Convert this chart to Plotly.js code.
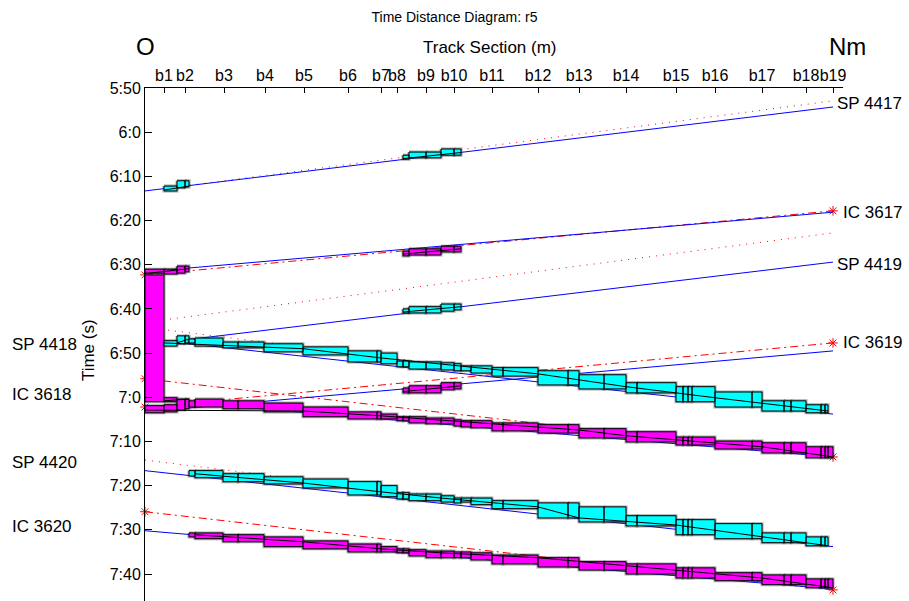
<!DOCTYPE html>
<html>
<head>
<meta charset="utf-8">
<script src="https://cdn.plot.ly/plotly-3.0.1.min.js"></script>
<style>html,body{margin:0;padding:0;background:#fff;}#chart{width:909px;height:601px;}</style>
</head>
<body>
<div id="chart"></div>
<script>
// ---- axis data ----
const signalNames = ['b1','b2','b3','b4','b5','b6','b7','b8','b9','b10','b11','b12','b13','b14','b15','b16','b17','b18','b19'];
const signalPos = [475,1000,1975,3000,3975,5075,5900,6300,7025,7725,8675,9825,10850,12025,13275,14250,15425,16525,17200];
const timeTicks = [350,360,370,380,390,400,410,420,430,440,450,460];
const timeLabels = ['5:50','6:0','6:10','6:20','6:30','6:40','6:50','7:0','7:10','7:20','7:30','7:40'];

// block section edges (m)
const blockEdges = [0,475,800,1000,1100,1250,1950,2325,2975,3950,5075,5800,5900,6300,6450,6600,7025,7400,7725,7900,8150,8675,8950,9825,10575,10850,11475,12025,12300,13275,13450,13575,13675,14250,15175,15425,15975,16150,16525,16900,17000,17075,17200];

// ---- blocking times (minutes of day) ----
const sp4417Seg = [1,2,3,14,15,16,17,18];
const sp4417Top = [372.2,371.0,371.0,365.2,364.5,364.5,363.8,363.8];
const sp4417Bot = [373.3,372.6,372.4,366.1,365.8,365.8,365.2,365.2];

const ic3617Seg = [0,1,2,3,14,15,16,17,18];
const ic3617Top = [391.0,391.0,390.3,390.3,386.9,386.4,386.4,385.8,385.8];
const ic3617Bot = [391.9,392.1,391.9,391.6,388.0,387.8,387.8,387.1,387.1];

const dwellSeg = [0];
const dwellTop = [392.3];
const dwellBot = [421.0];

const sp4419Seg = [2,3,14,15,16,17,18];
const sp4419Top = [406.1,406.1,400.0,399.5,399.5,398.9,398.9];
const sp4419Bot = [407.9,407.7,400.9,400.9,400.9,400.5,400.2];

const sp4418Seg = [1,4,5,6,7,8,9,10,11,12,13,14,15,16,17,18,19,20,21,22,23,24,25,26,27,28,29,30,31,32,33,34,35,36,37,38,39,40];
const sp4418Top = [407.2,406.8,406.6,407.5,407.5,407.9,408.6,409.5,409.5,410.0,411.8,411.8,412.0,412.0,412.2,412.4,412.9,412.9,413.3,413.3,414.0,414.0,414.9,414.9,416.7,416.7,417.6,417.6,417.6,417.6,418.8,418.8,420.8,420.8,420.8,421.7,421.7,421.7];
const sp4418Bot = [408.4,407.7,408.4,408.8,408.8,409.7,410.4,412.0,412.0,412.4,413.1,413.1,413.6,413.6,413.8,414.0,414.0,414.5,415.2,415.2,417.2,417.2,418.1,418.1,419.0,419.0,421.0,421.0,421.0,421.0,422.2,422.2,423.1,423.1,423.1,423.5,423.5,423.5];

const ic3619Seg = [1,14,15,16,17,18];
const ic3619Top = [420.1,417.9,417.4,417.4,416.7,416.7];
const ic3619Bot = [421.0,419.0,419.0,419.0,418.3,418.1];

const ic3618Seg = [0,1,2,3,4,5,6,7,8,9,10,11,12,13,14,15,16,17,18,19,20,21,22,23,24,25,26,27,28,29,30,31,32,33,34,35,36,37,38,39,40,41];
const ic3618Top = [421.9,421.7,420.4,420.4,420.8,420.4,420.8,420.8,421.3,422.2,423.3,423.3,423.8,424.4,424.4,424.4,424.7,424.7,425.1,425.3,425.3,425.8,425.8,426.2,426.2,427.1,427.1,427.8,427.8,429.0,429.0,429.0,429.0,429.9,429.9,430.3,430.3,430.3,431.2,431.2,431.2,431.2];
const ic3618Bot = [423.5,423.3,422.9,422.6,422.2,422.2,422.6,422.6,423.3,424.4,424.9,424.9,424.9,425.3,425.3,425.8,426.0,426.0,426.5,426.7,426.9,427.6,427.6,428.1,428.1,429.2,429.2,430.1,430.1,430.8,430.8,430.8,430.8,431.7,431.7,432.6,432.6,432.6,433.7,433.7,433.7,433.7];

const sp4420Seg = [4,5,6,7,8,9,10,11,12,13,14,15,16,17,18,19,20,21,22,23,24,25,26,27,28,29,30,31,32,33,34,35,36,37,38,39,40];
const sp4420Top = [436.6,436.6,437.3,437.3,438.0,438.5,439.1,439.1,440.0,441.6,441.6,441.9,441.9,442.3,442.8,442.8,442.8,443.4,443.4,443.9,443.9,444.8,444.8,446.8,446.8,447.7,447.7,447.7,447.7,448.6,448.6,450.7,450.7,450.7,451.6,451.6,451.6];
const sp4420Bot = [437.8,438.2,439.1,439.1,439.6,440.5,442.1,442.1,442.5,443.0,443.0,443.4,443.4,443.7,443.9,443.7,444.3,445.2,445.2,447.3,447.3,448.2,448.2,449.1,449.1,451.1,451.1,451.1,451.1,452.0,452.0,452.9,452.9,452.9,453.6,453.6,453.6];

const ic3620Seg = [4,5,6,7,8,9,10,11,12,13,14,15,16,17,18,19,20,21,22,23,24,25,26,27,28,29,30,31,32,33,34,35,36,37,38,39,40,41];
const ic3620Top = [450.7,450.7,451.1,451.1,451.6,452.5,453.2,453.2,453.8,454.3,454.3,454.5,454.8,454.8,455.0,455.0,455.2,455.7,455.7,456.3,456.3,457.2,457.2,457.7,457.7,458.6,458.6,458.6,458.6,459.7,459.7,460.2,460.2,460.2,461.1,461.1,461.1,461.1];
const ic3620Bot = [451.6,452.0,452.7,452.7,453.8,454.3,455.0,455.0,455.0,455.2,455.2,455.9,456.3,456.3,456.3,456.3,456.8,457.7,457.7,458.4,458.4,459.1,459.1,460.0,460.0,460.9,460.9,460.9,460.9,461.5,461.5,462.4,462.4,462.4,463.1,463.1,463.1,463.1];

// ---- train paths (actual: blue, planned: red) ----
const sp4417ActX = [0,17200], sp4417ActT = [373.3,354.3];
const sp4417PlanX = [1125,17200], sp4417PlanT = [372.0,352.9];
const ic3617ActX = [0,17200], ic3617ActT = [391.6,378.1];
const ic3617PlanX = [0,17200], ic3617PlanT = [392.3,377.8];
const sp4419ActX = [375,17200], sp4419ActT = [407.7,389.4];
const sp4419PlanX = [625,17200], sp4419PlanT = [402.3,382.8];
const sp4418ActX = [0,17200], sp4418ActT = [406.8,423.8];
const sp4418PlanX = [575,17200], sp4418PlanT = [404.8,423.5];
const ic3619ActX = [0,17200], ic3619ActT = [423.3,409.5];
const ic3619PlanX = [0,17200], ic3619PlanT = [422.2,407.7];
const ic3618ActX = [0,17200], ic3618ActT = [420.4,433.5];
const ic3618PlanX = [0,17200], ic3618PlanT = [415.8,433.5];
const sp4420ActX = [0,17200], sp4420ActT = [436.6,453.8];
const sp4420PlanX = [0,17200], sp4420PlanT = [434.2,453.4];
const ic3620ActX = [0,17200], ic3620ActT = [450.2,463.4];
const ic3620PlanX = [0,17200], ic3620PlanT = [445.9,463.6];

// ---- running paths inside blocks (black) ----
const sp4417RunX = [475,1100,null,6450,7900], sp4417RunT = [373.1,372.2,null,366.0,364.6];
const ic3617RunX = [0,1100,null,6450,7900], ic3617RunT = [392.0,390.9,null,387.6,386.4];
const sp4419RunX = [800,1100,null,6450,7900], sp4419RunT = [407.7,406.8,null,400.7,399.5];
const ic3619RunX = [475,1100,null,6450,7900], ic3619RunT = [420.8,420.4,null,418.7,417.4];
const sp4418RunX = [475,3950,5900,9825,12025,14250,17075], sp4418RunT = [407.7,409.0,411.1,414.7,417.6,420.1,423.1];
const ic3618RunX = [0,3950,5900,9825,10850,12025,13275,15425,17200], ic3618RunT = [422.9,423.1,424.2,426.7,427.4,428.7,429.6,431.2,433.5];
const sp4420RunX = [1250,3950,5900,7400,9825,10850,13275,15425,17075], sp4420RunT = [437.3,439.4,441.4,442.8,444.8,447.3,448.9,451.6,453.6];
const ic3620RunX = [1250,3950,5900,7400,9825,12025,13275,15425,17200], ic3620RunT = [451.1,452.7,454.3,455.2,456.3,458.1,459.0,460.9,463.1];

// ---- labels ----
const leftTrainNames = ['SP 4418','IC 3618','SP 4420','IC 3620'];
const leftTrainTimes = [408.1,419.4,434.8,449.3];
const rightTrainNames = ['SP 4417','IC 3617','SP 4419','IC 3619'];
const rightTrainTimes = [353.4,378.1,390.0,407.5];

const CYAN = '#00FFFF', MAGENTA = '#FF00FF', BLUE = '#0000FF', RED = '#FF0000';
const FONT = 'Liberation Sans, Arial, sans-serif';

function blockXY(seg, top, bot) {
  const x = [], y = [];
  seg.forEach((s, i) => {
    const x0 = blockEdges[s], x1 = blockEdges[s + 1];
    x.push(x0, x1, x1, x0, x0, null);
    y.push(top[i], top[i], bot[i], bot[i], top[i], null);
  });
  return {x, y};
}
function blocks(seg, top, bot, color) {
  const p = blockXY(seg, top, bot);
  return [
    {type:'scatter', mode:'lines', x:p.x, y:p.y, line:{color:'rgba(60,60,60,0.45)', width:3}, hoverinfo:'skip', showlegend:false},
    {type:'scatter', mode:'lines', x:p.x, y:p.y, fill:'toself', fillcolor:color, line:{color:'black', width:1}, hoverinfo:'skip', showlegend:false}
  ];
}
function act(x, t) {
  return {type:'scatter', mode:'lines', x, y:t, line:{color:BLUE, width:1}, hoverinfo:'skip', showlegend:false};
}
function planSP(x, t) {
  return {type:'scatter', mode:'lines', x, y:t, line:{color:RED, width:1, dash:'1px,6px'}, hoverinfo:'skip', showlegend:false};
}
function planIC(x, t) {
  return {type:'scatter', mode:'lines+markers', x, y:t, line:{color:RED, width:1, dash:'8px,4px,2px,4px'},
          marker:{symbol:'asterisk-open', size:8, color:RED, line:{color:RED, width:1}}, cliponaxis:false, hoverinfo:'skip', showlegend:false};
}
function run(x, t) {
  return {type:'scatter', mode:'lines', x, y:t, line:{color:'black', width:1}, connectgaps:false, hoverinfo:'skip', showlegend:false};
}

const traces = [
  planSP(sp4417PlanX, sp4417PlanT), planIC(ic3617PlanX, ic3617PlanT), planSP(sp4419PlanX, sp4419PlanT),
  planSP(sp4418PlanX, sp4418PlanT), planIC(ic3619PlanX, ic3619PlanT), planIC(ic3618PlanX, ic3618PlanT),
  planSP(sp4420PlanX, sp4420PlanT), planIC(ic3620PlanX, ic3620PlanT),
  act(sp4417ActX, sp4417ActT), act(ic3617ActX, ic3617ActT), act(sp4419ActX, sp4419ActT), act(sp4418ActX, sp4418ActT),
  act(ic3619ActX, ic3619ActT), act(ic3618ActX, ic3618ActT), act(sp4420ActX, sp4420ActT), act(ic3620ActX, ic3620ActT),
  ...blocks(dwellSeg, dwellTop, dwellBot, MAGENTA),
  ...blocks(sp4417Seg, sp4417Top, sp4417Bot, CYAN),
  ...blocks(ic3617Seg, ic3617Top, ic3617Bot, MAGENTA),
  ...blocks(sp4419Seg, sp4419Top, sp4419Bot, CYAN),
  ...blocks(sp4418Seg, sp4418Top, sp4418Bot, CYAN),
  ...blocks(ic3619Seg, ic3619Top, ic3619Bot, MAGENTA),
  ...blocks(ic3618Seg, ic3618Top, ic3618Bot, MAGENTA),
  ...blocks(sp4420Seg, sp4420Top, sp4420Bot, CYAN),
  ...blocks(ic3620Seg, ic3620Top, ic3620Bot, MAGENTA),
  run(sp4417RunX, sp4417RunT), run(ic3617RunX, ic3617RunT), run(sp4419RunX, sp4419RunT), run(ic3619RunX, ic3619RunT),
  run(sp4418RunX, sp4418RunT), run(ic3618RunX, ic3618RunT), run(sp4420RunX, sp4420RunT), run(ic3620RunX, ic3620RunT)
];

const LABEL = {family:FONT, size:17, color:'black'};
const annotations = [
  {text:'Track Section (m)', xref:'paper', yref:'paper', x:0.494, y:1.078, xanchor:'center', yanchor:'middle', showarrow:false, font:LABEL},
  {text:'O', xref:'paper', yref:'paper', x:0.0, y:1.08, xanchor:'center', yanchor:'middle', showarrow:false, font:{family:FONT, size:24, color:'black'}},
  {text:'Nm', xref:'paper', yref:'paper', x:1.007, y:1.08, xanchor:'center', yanchor:'middle', showarrow:false, font:{family:FONT, size:24, color:'black'}},
  {text:'Time (s)', xref:'paper', yref:'paper', x:-0.0817, y:0.489, xanchor:'center', yanchor:'middle', textangle:-90, showarrow:false, font:LABEL}
];
leftTrainNames.forEach((n, i) => annotations.push({text:n, xref:'paper', yref:'y', x:-0.194, y:leftTrainTimes[i], xanchor:'left', yanchor:'middle', showarrow:false, font:LABEL}));
rightTrainNames.forEach((n, i) => annotations.push({text:n, xref:'x', yref:'y', x:17200, y:rightTrainTimes[i], xanchor:'left', yanchor:'middle', xshift:n.startsWith('IC') ? 8 : 2, showarrow:false, font:LABEL}));

const layout = {
  width:909, height:601,
  margin:{l:145, r:66, t:88, b:0},
  paper_bgcolor:'white', plot_bgcolor:'white',
  showlegend:false,
  font:{family:FONT, size:14, color:'black'},
  title:{text:'Time Distance Diagram: r5', x:0.5, xanchor:'center', y:0.972, yanchor:'middle', font:{family:FONT, size:14, color:'black'}},
  xaxis:{side:'top', range:[0,17450], tickvals:signalPos, ticktext:signalNames, tickangle:0, ticks:'inside', ticklen:5, tickcolor:'black',
         showline:true, linecolor:'black', linewidth:1, showgrid:false, zeroline:false, tickfont:{family:FONT, size:16, color:'black'}},
  yaxis:{range:[466.1,350], tickvals:timeTicks, ticktext:timeLabels, ticks:'inside', ticklen:7, tickcolor:'black',
         showline:true, linecolor:'black', linewidth:1, showgrid:false, zeroline:false, tickfont:{family:FONT, size:16, color:'black'}},
  annotations
};

Plotly.newPlot('chart', traces, layout, {staticPlot:true, displayModeBar:false});
</script>
</body>
</html>
